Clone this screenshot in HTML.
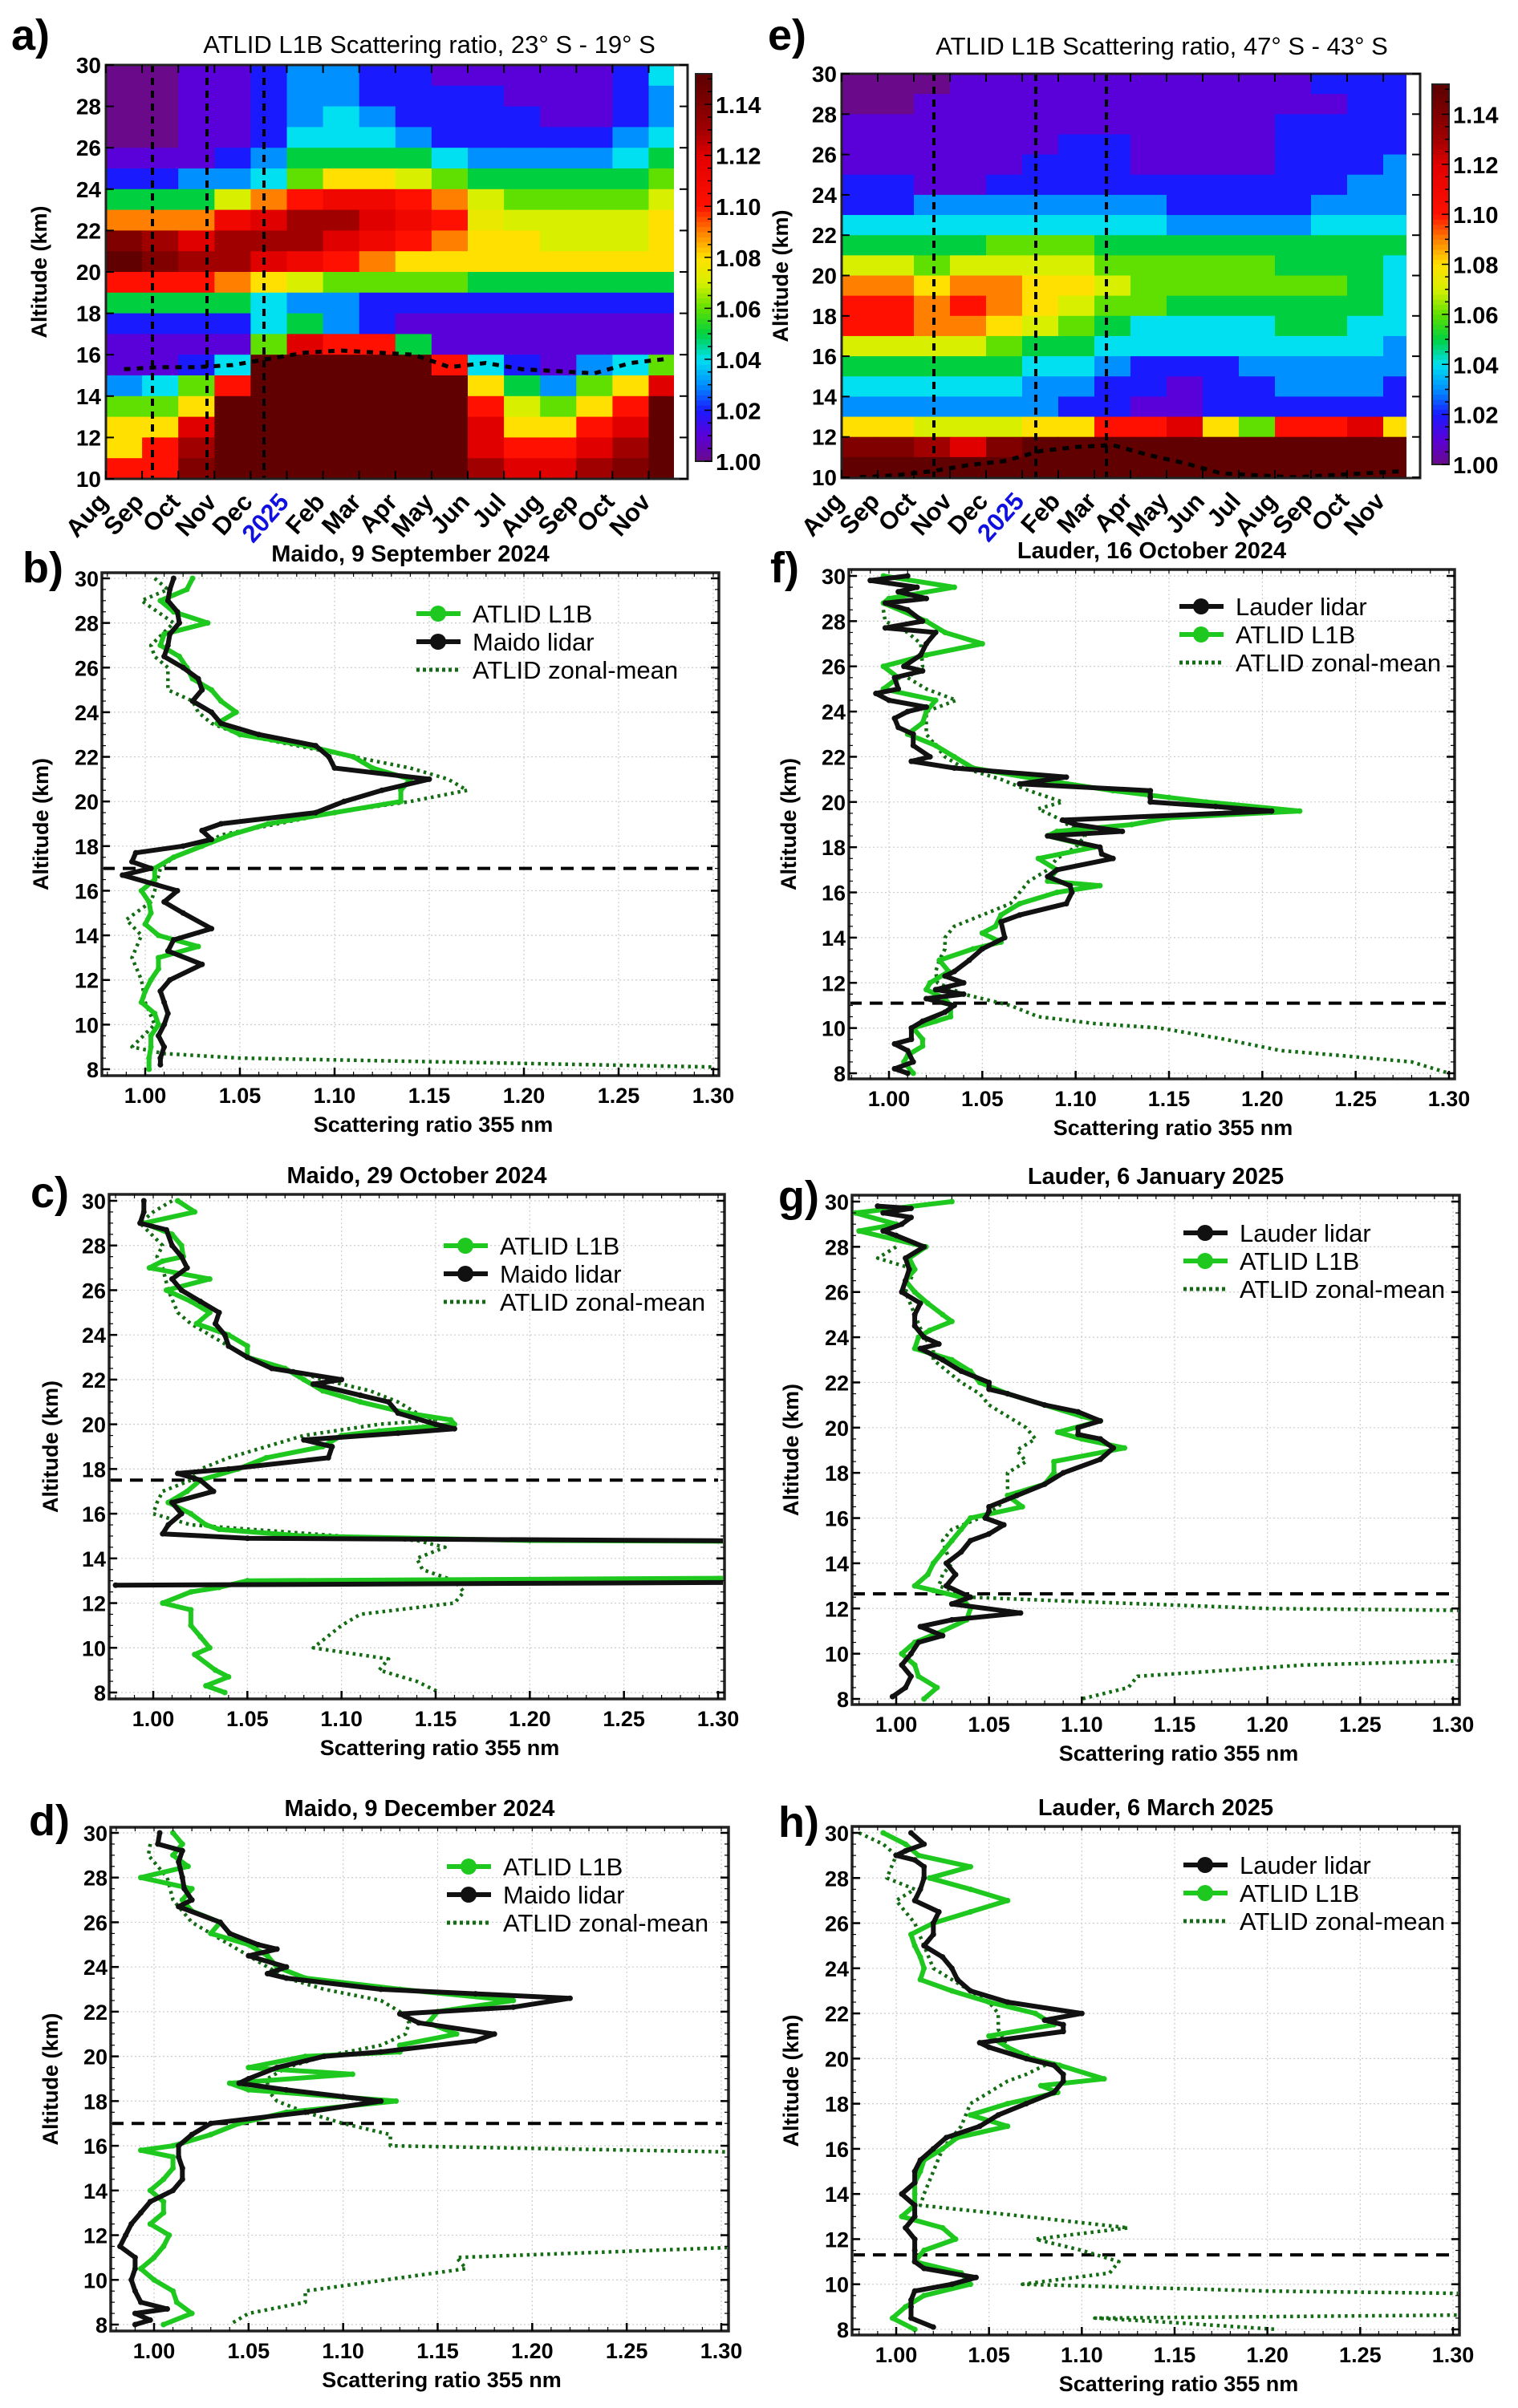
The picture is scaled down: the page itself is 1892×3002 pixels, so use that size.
<!DOCTYPE html>
<html><head><meta charset="utf-8"><style>
html,body{margin:0;padding:0;background:#fff}
svg{display:block;font-family:"Liberation Sans",sans-serif}
</style></head><body>
<svg id="fig" xmlns="http://www.w3.org/2000/svg" width="1892" height="3002" viewBox="0 0 1892 3002"></svg>
<script>
// ---------- DATA ----------
const months = ["Aug","Sep","Oct","Nov","Dec","2025","Feb","Mar","Apr","May","Jun","Jul","Aug","Sep","Oct","Nov"];
const heatAlts = [29.5,28.5,27.5,26.5,25.5,24.5,23.5,22.5,21.5,20.5,19.5,18.5,17.5,16.5,15.5,14.5,13.5,12.5,11.5,10.5];
const heatA = [
[1.00,1.00,1.01,1.01,1.02,1.03,1.03,1.02,1.02,1.01,1.01,1.01,1.01,1.01,1.02,1.04],
[1.00,1.00,1.01,1.01,1.02,1.03,1.03,1.02,1.02,1.02,1.02,1.01,1.01,1.01,1.02,1.03],
[1.00,1.00,1.01,1.01,1.02,1.03,1.04,1.03,1.02,1.02,1.02,1.02,1.01,1.01,1.02,1.03],
[1.00,1.00,1.01,1.01,1.02,1.04,1.04,1.04,1.03,1.02,1.02,1.02,1.02,1.02,1.03,1.04],
[1.01,1.01,1.01,1.02,1.03,1.05,1.05,1.05,1.05,1.04,1.03,1.03,1.03,1.03,1.04,1.05],
[1.02,1.02,1.03,1.03,1.04,1.06,1.08,1.08,1.07,1.06,1.05,1.05,1.05,1.05,1.05,1.06],
[1.05,1.05,1.05,1.07,1.09,1.10,1.11,1.11,1.10,1.09,1.07,1.06,1.06,1.06,1.06,1.07],
[1.09,1.09,1.09,1.11,1.12,1.13,1.13,1.12,1.11,1.10,1.075,1.07,1.07,1.07,1.07,1.08],
[1.14,1.13,1.12,1.13,1.13,1.13,1.12,1.11,1.10,1.09,1.08,1.08,1.07,1.07,1.07,1.08],
[1.15,1.14,1.13,1.13,1.12,1.11,1.10,1.09,1.08,1.08,1.08,1.08,1.08,1.08,1.08,1.08],
[1.10,1.10,1.10,1.09,1.08,1.07,1.06,1.06,1.06,1.06,1.05,1.05,1.05,1.05,1.05,1.05],
[1.05,1.05,1.05,1.05,1.04,1.03,1.03,1.02,1.02,1.02,1.02,1.02,1.02,1.02,1.02,1.02],
[1.02,1.02,1.02,1.02,1.04,1.05,1.03,1.02,1.01,1.01,1.01,1.01,1.01,1.01,1.01,1.01],
[1.01,1.01,1.01,1.01,1.06,1.12,1.10,1.10,1.05,1.01,1.01,1.01,1.01,1.01,1.01,1.01],
[1.01,1.01,1.02,1.04,1.15,1.15,1.15,1.15,1.15,1.10,1.04,1.02,1.01,1.03,1.04,1.06],
[1.03,1.04,1.06,1.10,1.15,1.15,1.15,1.15,1.15,1.15,1.08,1.05,1.03,1.06,1.08,1.12],
[1.06,1.06,1.08,1.15,1.15,1.15,1.15,1.15,1.15,1.15,1.10,1.07,1.06,1.08,1.10,1.15],
[1.08,1.08,1.12,1.15,1.15,1.15,1.15,1.15,1.15,1.15,1.12,1.08,1.08,1.10,1.12,1.15],
[1.08,1.10,1.13,1.15,1.15,1.15,1.15,1.15,1.15,1.15,1.12,1.10,1.10,1.12,1.13,1.15],
[1.10,1.10,1.14,1.15,1.15,1.15,1.15,1.15,1.15,1.15,1.13,1.12,1.12,1.13,1.14,1.15]];
const heatE = [
[1.00,1.00,1.00,1.01,1.01,1.01,1.01,1.01,1.01,1.01,1.01,1.01,1.01,1.02,1.02,1.02],
[1.00,1.00,1.01,1.01,1.01,1.01,1.01,1.01,1.01,1.01,1.01,1.01,1.01,1.01,1.02,1.02],
[1.01,1.01,1.01,1.01,1.01,1.01,1.01,1.01,1.01,1.01,1.01,1.01,1.02,1.02,1.02,1.02],
[1.01,1.01,1.01,1.01,1.01,1.01,1.02,1.02,1.01,1.01,1.01,1.01,1.02,1.02,1.02,1.02],
[1.01,1.01,1.01,1.01,1.01,1.02,1.02,1.02,1.01,1.01,1.01,1.01,1.02,1.02,1.02,1.03],
[1.02,1.02,1.01,1.01,1.02,1.02,1.02,1.02,1.02,1.02,1.02,1.02,1.02,1.02,1.03,1.03],
[1.02,1.02,1.03,1.03,1.03,1.03,1.03,1.03,1.03,1.02,1.02,1.02,1.02,1.03,1.03,1.03],
[1.04,1.04,1.04,1.04,1.04,1.04,1.04,1.04,1.04,1.03,1.03,1.03,1.03,1.04,1.04,1.04],
[1.05,1.05,1.05,1.05,1.06,1.06,1.06,1.05,1.05,1.05,1.05,1.05,1.05,1.05,1.05,1.05],
[1.07,1.07,1.06,1.07,1.07,1.07,1.07,1.06,1.06,1.06,1.06,1.06,1.05,1.05,1.05,1.04],
[1.09,1.09,1.08,1.09,1.09,1.08,1.08,1.07,1.06,1.06,1.06,1.06,1.06,1.06,1.05,1.04],
[1.10,1.10,1.09,1.10,1.09,1.08,1.07,1.06,1.06,1.05,1.05,1.05,1.05,1.05,1.05,1.04],
[1.10,1.10,1.09,1.09,1.08,1.07,1.06,1.05,1.04,1.04,1.04,1.04,1.05,1.05,1.04,1.04],
[1.07,1.07,1.07,1.07,1.06,1.05,1.05,1.04,1.04,1.04,1.04,1.04,1.04,1.04,1.04,1.03],
[1.05,1.05,1.05,1.05,1.05,1.04,1.04,1.03,1.02,1.02,1.02,1.03,1.03,1.03,1.03,1.03],
[1.04,1.04,1.04,1.04,1.04,1.03,1.03,1.02,1.02,1.01,1.02,1.02,1.03,1.03,1.03,1.02],
[1.03,1.03,1.03,1.03,1.03,1.03,1.02,1.02,1.01,1.01,1.02,1.02,1.02,1.02,1.02,1.02],
[1.08,1.08,1.07,1.07,1.07,1.08,1.08,1.10,1.10,1.12,1.08,1.06,1.10,1.10,1.12,1.08],
[1.14,1.14,1.13,1.12,1.14,1.15,1.15,1.15,1.15,1.15,1.15,1.15,1.15,1.15,1.15,1.15],
[1.15,1.15,1.15,1.15,1.15,1.15,1.15,1.15,1.15,1.15,1.15,1.15,1.15,1.15,1.15,1.15]];
const tropoA = [15.3,15.4,15.4,15.5,15.8,16.1,16.2,16.1,16.0,15.4,15.6,15.3,15.2,15.1,15.6,15.8];
const tropoE = [10.0,10.1,10.3,10.6,10.8,11.3,11.5,11.6,11.1,10.7,10.2,10.1,10.0,10.1,10.2,10.3];
const cbTicks = [1.00,1.02,1.04,1.06,1.08,1.10,1.12,1.14];

// profile b
const bGreenAlt=[30,29.5,29,28.5,28,27.5,27,26.5,26,25.5,25,24.5,24,23.5,23,22.5,22,21.5,21,20.5,20,19.5,19,18.5,18,17.5,17,16.5,16,15.5,15,14.5,14,13.5,13,12.5,12,11.5,11,10.5,10,9.5,9,8.5,8];
const bGreenVal=[1.025,1.022,1.008,1.015,1.033,1.01,1.008,1.018,1.022,1.025,1.035,1.04,1.048,1.038,1.05,1.085,1.11,1.12,1.14,1.135,1.135,1.10,1.065,1.045,1.03,1.015,1.005,1.005,0.998,1.002,1.003,1.0,1.007,1.028,1.007,1.007,1.003,1.0,0.998,1.005,1.007,1.003,1.003,1.002,1.002];
const bBlackAlt=[30,29.5,29,28.5,28,27.5,27,26.5,26,25.5,25,24.5,24,23.5,23,22.5,22,21.5,21,20.5,20,19.5,19,18.7,18.3,18,17.7,17.3,17,16.7,16,15.5,15,14.3,13.8,13.3,12.7,12,11.5,11,10.5,10,9.5,9,8.5,8.2];
const bBlackVal=[1.015,1.013,1.012,1.017,1.018,1.013,1.012,1.01,1.02,1.028,1.03,1.025,1.035,1.04,1.06,1.09,1.097,1.10,1.15,1.125,1.105,1.09,1.04,1.03,1.035,1.02,0.995,0.993,1.003,0.988,1.017,1.01,1.02,1.035,1.015,1.012,1.03,1.013,1.008,1.01,1.012,1.01,1.007,1.01,1.008,1.008];
const bZonAlt=[30,29.5,29,28,27,26.5,26,25,24.5,24,23.5,23,22,21.5,21,20.5,20,19.5,19,18.5,18,17.5,17,16,15.5,14.7,14,13,12,11,10,9,8.7,8.5,8.1];
const bZonVal=[1.005,1.012,0.998,1.015,1.003,1.005,1.012,1.012,1.025,1.028,1.035,1.05,1.11,1.14,1.16,1.17,1.14,1.10,1.07,1.04,1.03,1.015,1.008,1.005,1.003,0.99,0.998,0.993,0.998,1.0,1.005,0.993,1.01,1.05,1.30];
// profile c
const cGreenAlt=[30,29.5,29,28.5,28,27.5,27.3,27,26.5,26,25.5,25,24.5,24,23.5,23,22.5,22,21.5,21,20.5,20.2,20,19.7,19.5,19,18.5,18,17.5,17,16.5,16,15.5,15.3,15,14.8,14.7,13.2,13.0,12.7,12.5,12,11.7,11,10.5,10,9.7,9,8.7,8.3,8];
const cGreenVal=[1.013,1.022,0.995,1.01,1.015,1.016,1.005,0.998,1.03,1.007,1.02,1.03,1.023,1.04,1.05,1.05,1.07,1.08,1.09,1.11,1.135,1.158,1.16,1.12,1.10,1.09,1.06,1.045,1.025,1.018,1.008,1.02,1.028,1.035,1.08,1.2,1.5,1.5,1.05,1.035,1.02,1.005,1.02,1.02,1.025,1.03,1.022,1.033,1.04,1.028,1.038];
const cBlackAlt=[30,29.5,29,28.7,28,27.5,27,26.5,26,25.5,25,24.5,24,23.5,23,22.5,22,21.8,21.3,21,20.5,20,19.8,19.6,19.3,19,18.5,18,17.8,17.5,17,16.5,16,15.5,15.1,14.9,14.7,13.0,12.8];
const cBlackVal=[0.995,0.995,0.993,1.007,1.01,1.015,1.018,1.01,1.015,1.025,1.035,1.033,1.038,1.04,1.05,1.063,1.10,1.085,1.11,1.125,1.13,1.15,1.16,1.13,1.08,1.095,1.093,1.04,1.013,1.025,1.032,1.01,1.015,1.008,1.005,1.05,1.5,1.5,0.98];
const cZonAlt=[30,29.5,29,28,27.5,27,26,25,24.5,24,23,22.5,22,21.5,21,20.5,20.2,20,19.5,19,18.5,18,17.5,17,16.5,16,15.5,15,14.8,14.5,14,13.5,13,12.5,12,11.5,11,10,9.5,9,8.5,8];
const cZonVal=[1.01,1.0,0.993,1.005,1.002,1.005,1.008,1.013,1.02,1.03,1.05,1.07,1.09,1.115,1.13,1.14,1.15,1.12,1.08,1.06,1.04,1.025,1.02,1.005,1.002,1.0,1.02,1.10,1.14,1.155,1.14,1.143,1.16,1.165,1.16,1.11,1.1,1.085,1.125,1.12,1.14,1.152];
// profile d
const dGreenAlt=[30,29.5,29,28.5,28,27.5,27,26.5,26,25.5,25,24.5,24,23.5,23,22.5,22,21.5,21,20.5,20.2,20,19.5,19.2,18.8,18.5,18,17.5,17,16.5,16,15.8,15.5,15,14.5,14,13.5,13,12.5,12,11.5,11,10.5,10,9.5,9,8.5,8];
const dGreenVal=[1.01,1.015,1.01,1.018,0.993,1.02,1.015,1.02,1.035,1.03,1.05,1.06,1.065,1.08,1.13,1.19,1.15,1.145,1.16,1.13,1.13,1.08,1.05,1.105,1.04,1.05,1.128,1.07,1.045,1.03,1.01,0.993,1.01,1.01,1.005,0.998,1.005,1.005,0.998,1.008,1.005,1.0,0.993,1.0,1.01,1.012,1.02,1.005];
const dBlackAlt=[30,29.5,29.2,28.7,28,27.5,27,26.7,26,25.5,25,24.8,24.5,24,23.7,23.5,23,22.8,22.6,22.2,21.9,21.5,21,20.7,20.2,20,19.5,19,18.8,18.5,18.2,18,17.5,17,16.5,16,15.5,15,14.5,14,13.5,13,12.5,12,11.5,11,10.5,10,9.5,9,8.7,8.5,8.2,8];
const dBlackVal=[1.003,1.002,1.015,1.013,1.015,1.016,1.02,1.013,1.035,1.04,1.055,1.065,1.05,1.07,1.06,1.07,1.12,1.17,1.22,1.19,1.13,1.14,1.18,1.17,1.12,1.09,1.065,1.05,1.045,1.07,1.10,1.12,1.08,1.03,1.02,1.013,1.013,1.015,1.015,1.01,0.998,0.993,0.988,0.985,0.982,0.99,0.99,0.988,0.99,0.993,1.007,0.99,0.998,0.99];
const dZonAlt=[29.5,29,28,27,26,25,24,23.5,23,22.5,22,21.5,21,20.5,20,19.5,19,18.5,18,17.5,17,16.5,16,15.5,11.9,11,10.5,9.5,9,8.5,8];
const dZonVal=[0.998,0.997,1.007,1.01,1.02,1.04,1.06,1.07,1.09,1.12,1.13,1.135,1.133,1.12,1.09,1.07,1.06,1.06,1.065,1.08,1.10,1.125,1.125,1.45,1.45,1.16,1.165,1.08,1.08,1.05,1.04];
// profile f
const fBlackAlt=[30,29.8,29.5,29.3,29,28.8,28.5,28,27.7,27.5,27,26.5,26,25.8,25.5,25,24.8,24.5,24.2,24,23.7,23.3,23,22.5,22,21.8,21.5,21.1,20.8,20.5,20.2,20,19.8,19.6,19.2,19,18.7,18.5,18,17.7,17.5,17,16.7,16.3,16,15.5,15,14.7,14,13.5,13,12.5,12.3,12,11.7,11.5,11.3,11,10.7,10.3,10,9.5,9.3,9,8.5,8.2,8];
const fBlackVal=[1.01,0.99,1.015,1.005,1.02,0.998,1.01,1.018,0.998,1.025,1.02,1.017,1.008,1.018,1.003,1.005,0.993,1.0,1.02,1.01,1.003,1.005,1.013,1.013,1.022,1.012,1.035,1.095,1.07,1.14,1.14,1.14,1.175,1.205,1.093,1.10,1.125,1.085,1.113,1.114,1.12,1.09,1.085,1.097,1.098,1.095,1.07,1.06,1.062,1.05,1.043,1.035,1.03,1.04,1.025,1.04,1.02,1.035,1.03,1.018,1.012,1.012,1.003,1.01,1.013,1.003,1.01];
const fGreenAlt=[30,29.5,29,28.8,28,27.5,27,26.5,26,25.5,25,24.5,24,23.5,23,22.5,22,21.5,21,20.5,20.2,20,19.6,19.3,19,18.7,18.5,18,17.5,17,16.5,16.3,16,15.5,15,14.5,14.2,13.8,13.5,13,12.5,12,11.7,11.3,11,10.5,10.3,10,9.5,9.2,8.8,8.5,8];
const fGreenVal=[0.997,1.035,1.0,0.997,1.02,1.03,1.05,1.02,0.997,1.005,0.997,1.025,1.02,1.018,1.01,1.025,1.035,1.045,1.08,1.12,1.15,1.17,1.22,1.15,1.13,1.09,1.085,1.11,1.08,1.09,1.085,1.113,1.09,1.07,1.06,1.057,1.05,1.06,1.045,1.027,1.032,1.022,1.02,1.03,1.033,1.033,1.025,1.013,1.018,1.018,1.01,1.008,1.013];
const fZonAlt=[28.5,28,27.5,27,26,25.5,25,24.5,24,23.5,23,22,21.5,21,20.5,20,19.7,19.3,18.5,18,17.5,17,16.5,16,15.5,15,14.5,14,13.5,13,12.5,12,11.5,11,10.5,10.2,10,9.5,9,8.8,8.5,8];
const fZonVal=[0.997,0.998,1.01,1.017,1.018,1.01,1.02,1.036,1.02,1.02,1.02,1.03,1.04,1.06,1.075,1.093,1.08,1.09,1.105,1.10,1.09,1.085,1.075,1.07,1.065,1.05,1.035,1.03,1.03,1.027,1.025,1.026,1.04,1.065,1.08,1.11,1.145,1.18,1.21,1.24,1.28,1.30];
// profile g
const gBlackAlt=[29.8,29.7,29.5,29.3,29,28.7,28.5,28,27.5,27,26.5,26,25.5,25,24.5,24,23.7,23.5,23,22.5,22,21.7,21.5,21,20.7,20.3,20,19.7,19.5,19.1,18.6,18,17.5,17,16.5,16.3,16,15.7,15.3,15,14.5,14,13.5,13,12.5,12.2,11.8,11.5,11.2,10.8,10.5,10,9.5,9,8.5,8.1];
const gBlackVal=[0.99,1.008,0.993,1.008,1.003,0.993,1.0,1.015,1.005,1.007,1.005,1.003,1.013,1.01,1.01,1.015,1.023,1.013,1.025,1.035,1.05,1.05,1.06,1.08,1.098,1.11,1.098,1.098,1.11,1.117,1.11,1.09,1.08,1.065,1.05,1.05,1.048,1.058,1.05,1.04,1.035,1.027,1.032,1.027,1.04,1.03,1.067,1.03,1.013,1.025,1.012,1.008,1.003,1.008,1.005,0.998];
const gGreenAlt=[30,29.5,29,28.7,28,27.5,27,26.5,26,25.5,25,24.7,24.3,24,23.5,23,22.5,22,21.5,21,20.5,20.3,19.8,19.5,19.1,18.5,18,17.5,17,16.5,16,15.5,15,14.5,14,13.5,13,12.8,12.5,12,11.5,11,10.5,10,9.5,9,8.5,8];
const gGreenVal=[1.03,0.978,1.0,0.98,1.016,1.007,1.01,1.005,1.01,1.017,1.025,1.03,1.018,1.012,1.01,1.03,1.04,1.045,1.06,1.08,1.1,1.11,1.087,1.1,1.123,1.085,1.085,1.08,1.06,1.068,1.04,1.035,1.03,1.025,1.02,1.017,1.01,1.02,1.035,1.04,1.038,1.025,1.01,1.003,1.01,1.012,1.022,1.015];
const gZonAlt=[28,27.5,27,26,25,24,23.5,23,22,21.5,21,20.5,20,19.5,19,18.5,18,17,16.5,16,15.5,15,14.5,14,13.5,13,12.5,12.3,12,11.8,10,9.5,9,8.5,8];
const gZonVal=[1.0,0.99,1.01,1.005,1.01,1.015,1.02,1.02,1.035,1.045,1.05,1.06,1.07,1.075,1.065,1.07,1.06,1.06,1.055,1.045,1.03,1.025,1.027,1.03,1.025,1.023,1.04,1.10,1.20,1.45,1.45,1.22,1.13,1.125,1.10];
// profile h
const hBlackAlt=[30,29.5,29.2,29,28.8,28.5,28,27.5,27,26.5,26,25.5,25,24.5,24,23.5,23,22.5,22,21.7,21.5,21.2,20.7,20.5,20,19.7,19.3,19,18.5,18,17.5,17,16.5,16,15.5,15,14.5,14,13.5,13,12.5,12,11.5,11,10.7,10.3,10,9.7,9.3,9,8.5,8.1];
const hBlackVal=[1.008,1.015,1.005,1.0,1.01,1.015,1.015,1.013,1.01,1.023,1.02,1.02,1.015,1.025,1.03,1.033,1.04,1.06,1.1,1.08,1.09,1.09,1.045,1.05,1.07,1.085,1.09,1.09,1.085,1.07,1.055,1.045,1.027,1.02,1.013,1.01,1.01,1.003,1.01,1.01,1.005,1.01,1.01,1.01,1.015,1.043,1.03,1.01,1.008,1.008,1.008,1.02];
const hGreenAlt=[30,29.5,29,28.5,28,27.5,27,26.5,26,25.5,25,24.5,24,23.5,23,22.5,22,21.5,21,20.5,20,19.7,19.1,18.8,18.5,18,17.5,17,16.5,16,15.5,15,14.5,14,13.5,13,12.5,12,11.5,11,10.5,10,9.5,9,8.5,8];
const hGreenVal=[0.993,1.005,1.012,1.04,1.018,1.04,1.06,1.04,1.02,1.008,1.01,1.013,1.015,1.013,1.03,1.05,1.075,1.085,1.05,1.06,1.073,1.088,1.112,1.078,1.087,1.06,1.04,1.06,1.033,1.025,1.015,1.013,1.01,1.01,1.01,1.003,1.025,1.032,1.015,1.01,1.035,1.04,1.015,1.005,0.998,1.01];
const hZonAlt=[30,29.5,29,28,27.5,27,26,25,24,23.5,23,22.5,22,21.3,20.5,20,19.7,19.3,19,18.5,18,17,16,15,14,13.5,13,12.5,12,11.5,11,10.5,10,9.7,9.5,8.7,8.5,8.3,8];
const hZonVal=[0.98,0.993,1.0,0.995,1.01,1.0,1.01,1.015,1.02,1.03,1.04,1.05,1.055,1.055,1.06,1.075,1.08,1.07,1.06,1.05,1.04,1.035,1.025,1.02,1.015,1.013,1.07,1.125,1.075,1.10,1.12,1.115,1.068,1.20,1.40,1.40,1.107,1.15,1.205];
const profTicksX=[1.00,1.05,1.10,1.15,1.20,1.25,1.30];
const profTicksY=[8,10,12,14,16,18,20,22,24,26,28,30];
const heatTicksY=[10,12,14,16,18,20,22,24,26,28,30];

// ---------- DRAWING ----------
const NS="http://www.w3.org/2000/svg";
const svg=document.getElementById('fig');
function mk(tag,attrs,parent,text){const e=document.createElementNS(NS,tag);for(const k in attrs)e.setAttribute(k,attrs[k]);if(text!==undefined)e.textContent=text;(parent||svg).appendChild(e);return e;}
const stops=[[1.00,[106,10,138]],[1.01,[90,0,216]],[1.02,[26,26,255]],[1.03,[0,144,255]],[1.04,[0,224,240]],[1.05,[0,208,64]],[1.06,[96,224,0]],[1.07,[216,240,0]],[1.08,[255,224,0]],[1.09,[255,128,0]],[1.10,[255,16,0]],[1.12,[224,0,0]],[1.13,[160,0,0]],[1.15,[96,0,0]]];
function cmap(v){if(v<=stops[0][0])return 'rgb('+stops[0][1]+')';for(let i=1;i<stops.length;i++){if(v<=stops[i][0]){const a=stops[i-1],b=stops[i],t=(v-a[0])/(b[0]-a[0]);return 'rgb('+a[1].map((c,j)=>Math.round(c+t*(b[1][j]-c))).join(',')+')';}}return 'rgb('+stops[stops.length-1][1]+')';}

function panelLabel(t,x,y){const e=mk('text',{x:x,y:y,'font-size':54,'font-weight':'bold'},svg,t);

}

function heatmap(cfg,grid,tropo,title,letter){
  const g=mk('g',{});
  
  
  const ys=a=>cfg.y10+(a-10)/20*(cfg.y30-cfg.y10);
  const xs=m=>cfg.x0+m*cfg.mw;
  const clip=mk('clipPath',{id:'clip'+letter},g);mk('rect',{x:cfg.L,y:cfg.T,width:cfg.dataR-cfg.L,height:cfg.B-cfg.T},clip);
  const cells=mk('g',{'clip-path':'url(#clip'+letter+')'},g);
  
  
  heatAlts.forEach((alt,r)=>{grid[r].forEach((v,c)=>{
    const y1=ys(alt+0.5),y2=ys(alt-0.5);
    const rc=mk('rect',{x:xs(c),y:y1,width:cfg.mw+0.6,height:y2-y1+0.6,fill:cmap(v)},cells);
    
    
  });});
  cfg.vlines.forEach(x=>{const l=mk('line',{x1:x,x2:x,y1:cfg.T,y2:cfg.B,stroke:'#000','stroke-width':4,'stroke-dasharray':'9 7'},g);
    
    });
  const pts=tropo.map((a,i)=>xs(i+0.5).toFixed(1)+','+ys(a).toFixed(1)).join(' ');
  const tp=mk('polyline',{points:pts,fill:'none',stroke:'#000','stroke-width':5,'stroke-dasharray':'8 8','clip-path':'url(#clip'+letter+')'},g);
  
  
  mk('rect',{x:cfg.L,y:cfg.T,width:cfg.R-cfg.L,height:cfg.B-cfg.T,fill:'none',stroke:'#222','stroke-width':3},g);
  heatTicksY.forEach(a=>{const y=ys(a);
    mk('line',{x1:cfg.L,x2:cfg.L+10,y1:y,y2:y,stroke:'#000','stroke-width':2},g);
    mk('line',{x1:cfg.R,x2:cfg.R-10,y1:y,y2:y,stroke:'#000','stroke-width':2},g);
    const t=mk('text',{x:cfg.L-6,y:y+10,'text-anchor':'end','font-size':28,'font-weight':'bold'},g,String(a));
    
    });
  months.forEach((m,i)=>{const x=xs(i);
    mk('line',{x1:x,x2:x,y1:cfg.B,y2:cfg.B-10,stroke:'#000','stroke-width':2},g);
    mk('line',{x1:x,x2:x,y1:cfg.T,y2:cfg.T+10,stroke:'#000','stroke-width':2},g);
    const ax=x+4, ay=cfg.B+30;
    const t=mk('text',{x:ax,y:ay,'text-anchor':'end','font-size':31,'font-weight':'bold',fill:m==='2025'?'#1010e0':'#000',transform:'rotate(-48 '+ax+' '+ay+')'},g,m);
    
    });
  const yt=mk('text',{x:0,y:0,'text-anchor':'middle','font-size':27,'font-weight':'bold',transform:'translate('+cfg.ytX+','+((cfg.T+cfg.B)/2)+') rotate(-90)'},g,'Altitude (km)');
  
  
  const tt=mk('text',{x:cfg.titleX,y:cfg.titleY,'text-anchor':'middle','font-size':31},g,title);
  
  
  const cb=mk('g',{},g);
  
  
  const cbY=v=>cfg.cbB-(v-1.0)/0.152*(cfg.cbB-cfg.cbT);
  for(let v=1.0;v<1.152;v+=0.002){mk('rect',{x:cfg.cbL,y:cbY(v+0.002),width:cfg.cbW,height:cbY(v)-cbY(v+0.002)+0.5,fill:cmap(v+0.001)},cb);}
  mk('rect',{x:cfg.cbL,y:cfg.cbT,width:cfg.cbW,height:cfg.cbB-cfg.cbT,fill:'none',stroke:'#222','stroke-width':2},cb);
  for(let k=0;k<=30;k++){const v=1+k*0.005;const y=cbY(v);mk('line',{x1:cfg.cbL+cfg.cbW,x2:cfg.cbL+cfg.cbW-(k%4===0?9:5),y1:y,y2:y,stroke:'#000','stroke-width':1.5},cb);}
  cbTicks.forEach(v=>{const t=mk('text',{x:cfg.cbL+cfg.cbW+5,y:cbY(v)+11,'font-size':29,'font-weight':'bold'},cb,v.toFixed(2));
    
    });
  panelLabel(letter+')',cfg.letterX,cfg.letterY);
}

function profile(cfg,series,title,letter,dashAlt,legendNames){
  const g=mk('g',{});
  
  
  const xs=v=>cfg.x100+(v-1)/0.3*(cfg.x130-cfg.x100);
  const ys=a=>cfg.y8+(a-8)/22*(cfg.y30-cfg.y8);
  profTicksX.forEach(v=>mk('line',{x1:xs(v),x2:xs(v),y1:cfg.T,y2:cfg.B,stroke:'#ccc','stroke-width':1.2,'stroke-dasharray':'2 3'},g));
  profTicksY.forEach(a=>mk('line',{x1:cfg.L,x2:cfg.R,y1:ys(a),y2:ys(a),stroke:'#ccc','stroke-width':1.2,'stroke-dasharray':'2 3'},g));
  const clip=mk('clipPath',{id:'clip'+letter},g);mk('rect',{x:cfg.L+2,y:cfg.T+2,width:cfg.R-cfg.L-4,height:cfg.B-cfg.T-4},clip);
  const plot=mk('g',{'clip-path':'url(#clip'+letter+')'},g);
  const dl=mk('line',{x1:cfg.L,x2:cfg.R-8,y1:ys(dashAlt),y2:ys(dashAlt),stroke:'#000','stroke-width':4,'stroke-dasharray':'16 10'},plot);
  
  
  series.forEach(s=>{
    const pts=s.alt.map((a,i)=>xs(s.val[i]).toFixed(1)+','+ys(a).toFixed(1)).join(' ');
    const pl=mk('polyline',{points:pts,fill:'none',stroke:s.color,'stroke-width':s.dotted?4.5:6,'stroke-linejoin':'round','stroke-dasharray':s.dotted?'3.5 5':'none'},plot);
    
    
    if(!s.dotted){s.alt.forEach((a,i)=>{const c=mk('circle',{cx:xs(s.val[i]),cy:ys(a),r:3.5,fill:s.color},plot);
      
      });}
  });
  mk('rect',{x:cfg.L,y:cfg.T,width:cfg.R-cfg.L,height:cfg.B-cfg.T,fill:'none',stroke:'#222','stroke-width':3.5},g);
  profTicksY.forEach(a=>{const y=ys(a);
    mk('line',{x1:cfg.L,x2:cfg.L+10,y1:y,y2:y,stroke:'#000','stroke-width':2.5},g);
    mk('line',{x1:cfg.R,x2:cfg.R-10,y1:y,y2:y,stroke:'#000','stroke-width':2.5},g);
    const t=mk('text',{x:cfg.L-4,y:y+10,'text-anchor':'end','font-size':27,'font-weight':'bold'},g,String(a));
    
    });
  for(let k=0;k<=44;k++){const y=ys(8+k*0.5);mk('line',{x1:cfg.L,x2:cfg.L+5,y1:y,y2:y,stroke:'#000','stroke-width':1.2},g);mk('line',{x1:cfg.R,x2:cfg.R-5,y1:y,y2:y,stroke:'#000','stroke-width':1.2},g);}
  for(let k=-2;k<=30;k++){const x=xs(1+k*0.01);mk('line',{x1:x,x2:x,y1:cfg.B,y2:cfg.B-5,stroke:'#000','stroke-width':1.2},g);mk('line',{x1:x,x2:x,y1:cfg.T,y2:cfg.T+5,stroke:'#000','stroke-width':1.2},g);}
  profTicksX.forEach(v=>{const x=xs(v);
    mk('line',{x1:x,x2:x,y1:cfg.B,y2:cfg.B-10,stroke:'#000','stroke-width':2.5},g);
    const t=mk('text',{x:x,y:cfg.B+34,'text-anchor':'middle','font-size':27,'font-weight':'bold'},g,v.toFixed(2));
    
    });
  const xt=mk('text',{x:(cfg.x100+cfg.x130)/2+5,y:cfg.B+70,'text-anchor':'middle','font-size':27,'font-weight':'bold'},g,'Scattering ratio 355 nm');
  
  
  const yt=mk('text',{x:0,y:0,'text-anchor':'middle','font-size':27,'font-weight':'bold',transform:'translate('+cfg.ytX+','+((cfg.T+cfg.B)/2)+') rotate(-90)'},g,'Altitude (km)');
  
  
  const tt=mk('text',{x:(cfg.L+cfg.R)/2,y:cfg.T-14,'text-anchor':'middle','font-size':29,'font-weight':'bold'},g,title);
  
  
  const lg=mk('g',{},g);
  
  
  legendNames.forEach((n,i)=>{const y=cfg.legY+i*35;const s=n.s;
    const e=mk('g',{},lg);
    
    
    mk('line',{x1:cfg.legX,x2:cfg.legX+55,y1:y,y2:y,stroke:s.color,'stroke-width':s.dotted?5:6,'stroke-dasharray':s.dotted?'4 4':'none'},e);
    if(!s.dotted)mk('circle',{cx:cfg.legX+27,cy:y,r:10,fill:s.color},e);
    mk('text',{x:cfg.legX+70,y:y+11,'font-size':31},e,n.label);
  });
  panelLabel(letter+')',cfg.letterX,cfg.letterY);
}

const GREEN='#1ec81e',BLACK='#111',ZON='#136b13';
heatmap({L:132,R:857,dataR:840,T:81,B:597,y10:597,y30:81,x0:132,mw:45.1,vlines:[190,258,329],cbL:867,cbW:20,cbT:92,cbB:575,ytX:58,titleX:535,titleY:66,letterX:14,letterY:62},heatA,tropoA,'ATLID L1B Scattering ratio, 23° S - 19° S','a');
heatmap({L:1049,R:1770,dataR:1753,T:92,B:596,y10:595,y30:92,x0:1049,mw:45.0,vlines:[1164,1291,1379],cbL:1785,cbW:21,cbT:105,cbB:579,ytX:982,titleX:1448,titleY:68,letterX:957,letterY:62},heatE,tropoE,'ATLID L1B Scattering ratio, 47° S - 43° S','e');

const mkS=(alt,val,color,dotted,name)=>({alt,val,color,dotted,name});
function lgMaido(gs,bs,zs){return [{s:gs,label:'ATLID L1B'},{s:bs,label:'Maido lidar'},{s:zs,label:'ATLID zonal-mean'}];}
function lgLauder(gs,bs,zs){return [{s:bs,label:'Lauder lidar'},{s:gs,label:'ATLID L1B'},{s:zs,label:'ATLID zonal-mean'}];}
function doProf(cfg,ga,gv,ba,bv,za,zv,title,letter,dash,maido){
  const gs=mkS(ga,gv,GREEN,false,'atlid-l1b-line'),bs=mkS(ba,bv,BLACK,false,maido?'maido-lidar-line':'lauder-lidar-line'),zs=mkS(za,zv,ZON,true,'zonal-mean-line');
  profile(cfg,[zs,gs,bs],title,letter,dash,maido?lgMaido(gs,bs,zs):lgLauder(gs,bs,zs));
}
doProf({L:127,R:896,T:714,B:1341,x100:181,x130:889,y30:721,y8:1333,ytX:60,legX:519,legY:765,letterX:28,letterY:726},bGreenAlt,bGreenVal,bBlackAlt,bBlackVal,bZonAlt,bZonVal,'Maido, 9 September 2024','b',17.0,true);
doProf({L:136,R:903,T:1489,B:2118,x100:191,x130:895,y30:1497,y8:2110,ytX:72,legX:553,legY:1553,letterX:38,letterY:1505},cGreenAlt,cGreenVal,cBlackAlt,cBlackVal,cZonAlt,cZonVal,'Maido, 29 October 2024','c',17.5,true);
doProf({L:138,R:908,T:2278,B:2906,x100:192,x130:899,y30:2285,y8:2898,ytX:72,legX:557,legY:2327,letterX:36,letterY:2288},dGreenAlt,dGreenVal,dBlackAlt,dBlackVal,dZonAlt,dZonVal,'Maido, 9 December 2024','d',17.0,true);
doProf({L:1058,R:1813,T:710,B:1345,x100:1108,x130:1806,y30:718,y8:1338,ytX:992,legX:1470,legY:756,letterX:960,letterY:726},fGreenAlt,fGreenVal,fBlackAlt,fBlackVal,fZonAlt,fZonVal,'Lauder, 16 October 2024','f',11.1,false);
doProf({L:1062,R:1819,T:1490,B:2125,x100:1117,x130:1811,y30:1498,y8:2118,ytX:995,legX:1475,legY:1537,letterX:970,letterY:1510},gGreenAlt,gGreenVal,gBlackAlt,gBlackVal,gZonAlt,gZonVal,'Lauder, 6 January 2025','g',12.65,false);
doProf({L:1062,R:1819,T:2277,B:2911,x100:1117,x130:1811,y30:2285,y8:2904,ytX:995,legX:1475,legY:2325,letterX:970,letterY:2290},hGreenAlt,hGreenVal,hBlackAlt,hBlackVal,hZonAlt,hZonVal,'Lauder, 6 March 2025','h',11.3,false);
</script>
</body></html>
